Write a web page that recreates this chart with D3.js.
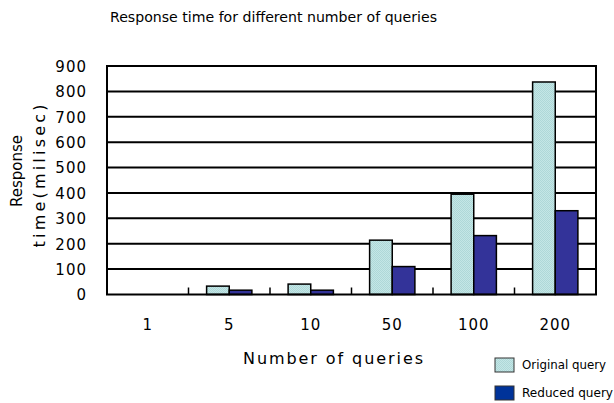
<!DOCTYPE html>
<html><head><meta charset="utf-8">
<script src="https://cdn.jsdelivr.net/npm/d3@7"></script>
<style>body{margin:0;background:#fff}svg{display:block}text{font-family:"DejaVu Sans",sans-serif;fill:#000}</style>
</head><body><svg id="c" width="614" height="403"></svg>
<script>
const categories = ["1","5","10","50","100","200"];
const seriesNames = ["Original query","Reduced query"];
const originalQuery = [0, 33, 41, 214, 395, 837];
const reducedQuery = [0, 17, 17, 110, 232, 330];
const yTicks = [0,100,200,300,400,500,600,700,800,900];
const barColors = ["#bde0e0","#333399"];
const legendColors = ["#bde0e0","#003399"];

const svg = d3.select("#c");
const L=107, R=596, T=66, B=294.5;
const x = d3.scaleBand().domain(categories).range([L,R]).paddingInner(0).paddingOuter(0);
const xs = d3.scaleBand().domain(seriesNames).range([0,x.bandwidth()]).paddingInner(0).paddingOuter(0.8);
const y = d3.scaleLinear().domain([0,900]).range([B,T]);

// pattern for light bars
const defs = svg.append("defs");
const pat = defs.append("pattern").attr("id","dots").attr("width",2).attr("height",2).attr("patternUnits","userSpaceOnUse");
pat.append("rect").attr("width",2).attr("height",2).attr("fill","#c4e6e6");
pat.append("rect").attr("width",1).attr("height",1).attr("fill","#aed8d8");
pat.append("rect").attr("x",1).attr("y",1).attr("width",1).attr("height",1).attr("fill","#aed8d8");

// gridlines
svg.append("g").selectAll("line").data(yTicks.slice(1)).join("line")
  .attr("x1",L).attr("x2",R).attr("y1",d=>y(d)).attr("y2",d=>y(d))
  .attr("stroke","#000").attr("stroke-width",2);

// y axis labels
const yAxis = d3.axisLeft(y).tickValues(yTicks).tickSize(0).tickPadding(20);
const ga = svg.append("g").attr("transform",`translate(${L},0)`).call(yAxis);
ga.select(".domain").remove();
ga.selectAll("text").style("font-size","15px").style("letter-spacing","1px").attr("dy","0.36em");

// bars
const data = categories.map((c,i)=>({c, vals:[originalQuery[i],reducedQuery[i]]}));
const g = svg.append("g");
data.forEach(d=>{
  d.vals.forEach((v,j)=>{
    if(v<=0) return;
    g.append("rect")
      .attr("x", x(d.c)+xs(seriesNames[j]))
      .attr("y", y(v))
      .attr("width", xs.bandwidth())
      .attr("height", B-y(v))
      .attr("fill", j===0?"url(#dots)":barColors[1])
      .attr("stroke","#000").attr("stroke-width",1.5);
  });
});

// category boundary ticks
svg.append("g").selectAll("line").data(categories.slice(1)).join("line")
  .attr("x1",d=>x(d)).attr("x2",d=>x(d)).attr("y1",B).attr("y2",B-7)
  .attr("stroke","#000").attr("stroke-width",1.5);

// border
svg.append("rect").attr("x",L).attr("y",T).attr("width",R-L).attr("height",B-T)
  .attr("fill","none").attr("stroke","#000").attr("stroke-width",2);

// x labels
const xAxis = d3.axisBottom(x).tickSize(0).tickPadding(25);
const gx = svg.append("g").attr("transform",`translate(0,${B})`).call(xAxis);
gx.select(".domain").remove();
gx.selectAll("text").style("font-size","15px").style("letter-spacing","1px");

// title
svg.append("text").attr("x",110).attr("y",22).attr("textLength",327).attr("lengthAdjust","spacingAndGlyphs")
  .style("font-size","14px").text("Response time for different number of queries");

// x title
svg.append("text").attr("x",243).attr("y",364).attr("textLength",180).attr("lengthAdjust","spacing")
  .style("font-size","16px").text("Number of queries");

// y title
svg.append("text").attr("transform","translate(22,171) rotate(-90)").attr("text-anchor","middle")
  .attr("textLength",72).attr("lengthAdjust","spacingAndGlyphs")
  .style("font-size","16px").text("Response");
svg.append("text").attr("transform","translate(45,176) rotate(-90)").attr("text-anchor","middle")
  .attr("textLength",143).attr("lengthAdjust","spacing")
  .style("font-size","16px").text("time(milisec)");

// legend
const lg = svg.append("g");
seriesNames.forEach((s,i)=>{
  const yy = 358 + i*28;
  lg.append("rect").attr("x",495).attr("y",yy).attr("width",19).attr("height",14)
    .attr("fill", i===0?"url(#dots)":legendColors[1]).attr("stroke","#333").attr("stroke-width",1);
  lg.append("text").attr("x",522).attr("y",yy+11).attr("textLength", i===0?84:91).attr("lengthAdjust","spacingAndGlyphs")
    .style("font-size","12px").text(s);
});
</script></body></html>
